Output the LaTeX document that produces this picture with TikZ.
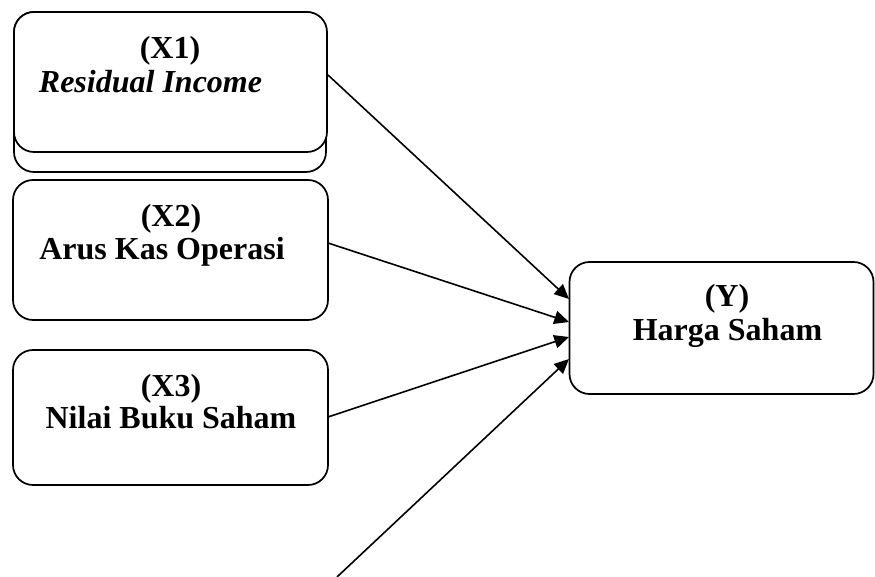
\documentclass[tikz,border=0pt]{standalone}
\usepackage{fontspec}
\setmainfont{Liberation Serif}
\usetikzlibrary{arrows.meta}
\begin{document}
\begin{tikzpicture}[x=0.75pt,y=-0.75pt,
  box/.style={draw=black,line width=1.3pt,rounded corners=15pt,fill=white,inner sep=0pt},
  lbl/.style={font=\fontsize{24}{28}\selectfont\bfseries,anchor=base,inner sep=0pt},
  arr/.style={line width=1.2pt,-{Triangle[length=11pt,width=10pt]}}]
\useasboundingbox (0,0) rectangle (875,577);
% X1 with shadow box
\node[box,minimum width=312*0.75pt,minimum height=160*0.75pt] (X1s) at (170,92) {};
\node[box,minimum width=313*0.75pt,minimum height=140*0.75pt] (X1) at (170.5,82) {};
\node[box,minimum width=315*0.75pt,minimum height=140*0.75pt] (X2) at (170.5,250) {};
\node[box,minimum width=315*0.75pt,minimum height=135*0.75pt] (X3) at (170.5,417.5) {};
\node[box,minimum width=304*0.75pt,minimum height=132*0.75pt] (Y) at (721.5,328) {};
% labels
\node[lbl] (t1a) at (170,59) {(X1)};
\node[lbl,font=\fontsize{24}{28}\selectfont\bfseries\itshape] (t1b) at (150.5,93) {Residual Income};
\node[lbl] (t2a) at (171,227) {(X2)};
\node[lbl] (t2b) at (162,260) {Arus Kas Operasi};
\node[lbl] (t3a) at (171,397) {(X3)};
\node[lbl] (t3b) at (171,428) {Nilai Buku Saham};
\node[lbl] (tya) at (727,307) {(Y)};
\node[lbl] (tyb) at (727.5,340) {Harga Saham};
% connector endpoints
\coordinate (s1) at (328,75);
\coordinate (s2) at (328,243);
\coordinate (s3) at (328,417);
\coordinate (s4) at (337,577);
\coordinate (e1) at (569,299);
\coordinate (e2) at (569,322);
\coordinate (e3) at (569,337);
\coordinate (e4) at (569,359);
\draw[arr] (s1) -- (e1);
\draw[arr] (s2) -- (e2);
\draw[arr] (s3) -- (e3);
\draw[arr] (s4) -- (e4);
\end{tikzpicture}
\end{document}
